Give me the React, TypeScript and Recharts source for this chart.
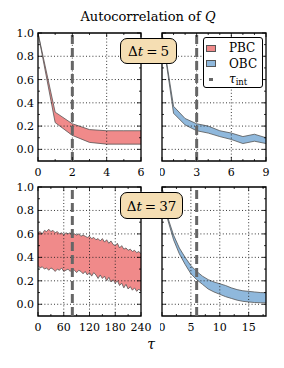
import React from 'react';
import { ComposedChart, Area, XAxis, YAxis, ReferenceLine, ReferenceArea } from 'recharts';

// ---------- data ----------
// Δt = 5, PBC
const pbc5Tau = [0, 1, 2, 3, 4, 5, 6];
const pbc5Low = [1.0, 0.23, 0.12, 0.06, 0.045, 0.045, 0.045];
const pbc5High = [1.0, 0.32, 0.22, 0.17, 0.16, 0.16, 0.16];
// Δt = 5, OBC
const obc5Tau = [0, 1, 2, 3, 4, 5, 6, 7, 8, 9];
const obc5Low = [1.0, 0.31, 0.21, 0.16, 0.14, 0.11, 0.085, 0.05, 0.07, 0.05];
const obc5High = [1.0, 0.37, 0.265, 0.22, 0.2, 0.16, 0.14, 0.11, 0.13, 0.1];
// Δt = 37, PBC
const pbc37Tau = [0, 5, 10, 15, 20, 25, 30, 35, 40, 45, 50, 55, 60, 65, 70, 75, 80, 85, 90, 95, 100, 105, 110, 115, 120, 125, 130, 135, 140, 145, 150, 155, 160, 165, 170, 175, 180, 185, 190, 195, 200, 205, 210, 215, 220, 225, 230, 235, 240];
const pbc37High = [0.61, 0.62, 0.6, 0.63, 0.62, 0.64, 0.62, 0.63, 0.61, 0.62, 0.6, 0.61, 0.59, 0.61, 0.6, 0.61, 0.59, 0.6, 0.59, 0.6, 0.58, 0.59, 0.58, 0.57, 0.58, 0.56, 0.57, 0.55, 0.56, 0.54, 0.56, 0.53, 0.55, 0.52, 0.54, 0.51, 0.5, 0.52, 0.48, 0.5, 0.47, 0.48, 0.46, 0.47, 0.45, 0.46, 0.44, 0.45, 0.43];
const pbc37Low = [0.33, 0.31, 0.32, 0.3, 0.31, 0.29, 0.31, 0.3, 0.28, 0.3, 0.29, 0.31, 0.28, 0.29, 0.3, 0.28, 0.3, 0.29, 0.27, 0.29, 0.28, 0.26, 0.28, 0.25, 0.27, 0.24, 0.27, 0.25, 0.22, 0.25, 0.22, 0.24, 0.2, 0.23, 0.19, 0.21, 0.18, 0.2, 0.16, 0.18, 0.14, 0.17, 0.13, 0.15, 0.12, 0.14, 0.11, 0.13, 0.11];
// Δt = 37, OBC
const obc37Tau = [0, 1, 2, 3, 4, 5, 6, 7, 8, 9, 10, 11, 12, 13, 14, 15, 16, 17, 18];
const obc37Low = [1.0, 0.72, 0.55, 0.43, 0.34, 0.26, 0.21, 0.17, 0.13, 0.105, 0.085, 0.065, 0.05, 0.035, 0.025, 0.02, 0.015, 0.013, 0.012];
const obc37High = [1.0, 0.74, 0.59, 0.48, 0.4, 0.33, 0.28, 0.24, 0.21, 0.19, 0.175, 0.16, 0.14, 0.125, 0.115, 0.11, 0.105, 0.1, 0.098];

const tauInt = { pbc5: 2, obc5: 3, pbc37: 80, obc37: 6 };

const yMajor = [0, 0.2, 0.4, 0.6, 0.8, 1.0];
const yMinor = [0.1, 0.3, 0.5, 0.7, 0.9];

const seriesNames = ['PBC', 'OBC'];
const PBC_FILL = '#f08a8a';
const OBC_FILL = '#8fb8dc';
const FONT = "'DejaVu Serif', serif";

const toData = (tau: number[], low: number[], high: number[]) =>
  tau.map((t, i) => ({ t, band: [low[i], high[i]] as [number, number] }));

type PanelProps = {
  left: number;
  top: number;
  plotW: number;
  plotH: number;
  yAxisW: number;
  data: { t: number; band: [number, number] }[];
  domain: [number, number];
  xMajor: number[];
  xMinor: number[];
  tau: number;
  fill: string;
  showY: boolean;
};

const MT = 8;
const MR = 14;

function Panel(p: PanelProps) {
  const xAxisH = 24;
  const width = p.yAxisW + p.plotW + MR;
  const height = MT + p.plotH + xAxisH;
  const xTicks = [...p.xMajor, ...p.xMinor].sort((a, b) => a - b);
  const yTicks = [...yMajor, ...yMinor].sort((a, b) => a - b);

  const XTick = (props: any) => {
    const { x, y, payload } = props;
    const v = payload.value;
    const major = p.xMajor.includes(v);
    const len = major ? 4 : 2;
    return (
      <g>
        <line x1={x} x2={x} y1={y} y2={y - len} stroke="#000" strokeWidth={0.8} />
        <line x1={x} x2={x} y1={y - p.plotH} y2={y - p.plotH + len} stroke="#000" strokeWidth={0.8} />
        {major && (
          <text x={x} y={y + 15} textAnchor="middle" fontSize={11} fontFamily={FONT} fill="#000">
            {v}
          </text>
        )}
      </g>
    );
  };

  const YTick = (props: any) => {
    const { x, y, payload } = props;
    const v = payload.value;
    const major = yMajor.includes(v);
    const len = major ? 4 : 2;
    return (
      <g>
        <line x1={x} x2={x + len} y1={y} y2={y} stroke="#000" strokeWidth={0.8} />
        <line x1={x + p.plotW} x2={x + p.plotW - len} y1={y} y2={y} stroke="#000" strokeWidth={0.8} />
        {major && p.showY && (
          <text x={x - 4} y={y + 4} textAnchor="end" fontSize={11} fontFamily={FONT} fill="#000">
            {v.toFixed(1)}
          </text>
        )}
      </g>
    );
  };

  const gridX = p.xMajor.filter((v) => v > p.domain[0] && v < p.domain[1]);
  const gridY = yMajor.filter((v) => v < 1);

  return (
    <div style={{ position: 'absolute', left: p.left, top: p.top - MT }}>
      <ComposedChart
        width={width}
        height={height}
        data={p.data}
        margin={{ top: MT, right: MR, bottom: 0, left: 0 }}
      >
        <XAxis
          type="number"
          dataKey="t"
          domain={p.domain}
          ticks={xTicks}
          interval={0}
          tickSize={0}
          tickMargin={0}
          axisLine={false}
          tickLine={false}
          tick={XTick}
          height={xAxisH}
          allowDataOverflow
        />
        <YAxis
          type="number"
          domain={[-0.1, 1]}
          ticks={yTicks}
          interval={0}
          tickSize={0}
          tickMargin={0}
          axisLine={false}
          tickLine={false}
          tick={YTick}
          width={p.yAxisW}
          allowDataOverflow
        />
        <Area
          type="linear"
          dataKey="band"
          stroke="#555"
          strokeWidth={0.8}
          fill={p.fill}
          fillOpacity={1}
          dot={false}
          activeDot={false}
          isAnimationActive={false}
        />
        {gridX.map((v) => (
          <ReferenceLine key={'gx' + v} x={v} stroke="#222" strokeWidth={0.9} strokeDasharray="1 2.2" />
        ))}
        {gridY.map((v) => (
          <ReferenceLine key={'gy' + v} y={v} stroke="#222" strokeWidth={0.9} strokeDasharray="1 2.2" />
        ))}
        <ReferenceLine x={p.tau} stroke="#666" strokeWidth={3} strokeDasharray="9 4" />
        <ReferenceArea
          x1={p.domain[0]}
          x2={p.domain[1]}
          y1={-0.1}
          y2={1}
          fill="none"
          fillOpacity={0}
          stroke="#000"
          strokeWidth={1.3}
        />
      </ComposedChart>
    </div>
  );
}

const DtBox = ({ left, top, w, h, value }: { left: number; top: number; w: number; h: number; value: number }) => (
  <div
    style={{
      position: 'absolute',
      left,
      top,
      width: w,
      height: h,
      boxSizing: 'border-box',
      border: '1.5px solid #000',
      borderRadius: 7,
      background: '#f5deb3',
      display: 'flex',
      alignItems: 'center',
      justifyContent: 'center',
      fontSize: 13.5,
      fontFamily: FONT,
      whiteSpace: 'nowrap',
    }}
  >
    <span>Δ</span>
    <span style={{ fontStyle: 'italic' }}>t</span>
    <span style={{ margin: '0 3px' }}>=</span>
    <span>{value}</span>
  </div>
);

export default function App() {
  return (
    <div
      style={{
        position: 'absolute',
        left: 0,
        top: 0,
        width: 284,
        height: 368,
        background: '#fff',
        fontFamily: FONT,
        overflow: 'hidden',
      }}
    >
      <div
        style={{
          position: 'absolute',
          left: 148,
          top: 9,
          transform: 'translateX(-50%)',
          fontSize: 13,
          whiteSpace: 'nowrap',
        }}
      >
        Autocorrelation of <span style={{ fontStyle: 'italic' }}>Q</span>
      </div>

      <Panel left={0} top={33} plotW={103} plotH={128} yAxisW={38} data={toData(pbc5Tau, pbc5Low, pbc5High)}
        domain={[0, 6]} xMajor={[0, 2, 4, 6]} xMinor={[1, 3, 5]} tau={tauInt.pbc5} fill={PBC_FILL} showY />
      <Panel left={160} top={33} plotW={104} plotH={128} yAxisW={2} data={toData(obc5Tau, obc5Low, obc5High)}
        domain={[0, 9]} xMajor={[0, 3, 6, 9]} xMinor={[1, 2, 4, 5, 7, 8]} tau={tauInt.obc5} fill={OBC_FILL} showY={false} />
      <Panel left={0} top={187} plotW={103} plotH={129} yAxisW={38} data={toData(pbc37Tau, pbc37Low, pbc37High)}
        domain={[0, 240]} xMajor={[0, 60, 120, 180, 240]} xMinor={[30, 90, 150, 210]} tau={tauInt.pbc37} fill={PBC_FILL} showY />
      <Panel left={160} top={187} plotW={104} plotH={129} yAxisW={2} data={toData(obc37Tau, obc37Low, obc37High)}
        domain={[0, 18]} xMajor={[0, 5, 10, 15]} xMinor={[2.5, 7.5, 12.5, 17.5]} tau={tauInt.obc37} fill={OBC_FILL} showY={false} />

      <DtBox left={120} top={38} w={57} h={26} value={5} />
      <DtBox left={120} top={192} w={63} h={27} value={37} />

      {/* legend */}
      <div
        style={{
          position: 'absolute',
          left: 203,
          top: 37,
          width: 60,
          height: 51,
          boxSizing: 'border-box',
          border: '1px solid #000',
          borderRadius: 3,
          background: '#fff',
          fontSize: 12,
        }}
      >
        {seriesNames.map((name, i) => (
          <div key={name} style={{ position: 'absolute', left: 2, top: 3 + i * 15.5, height: 14, display: 'flex', alignItems: 'center' }}>
            <div
              style={{
                width: 10,
                height: 7,
                boxSizing: 'border-box',
                border: '0.8px solid #555',
                background: i === 0 ? PBC_FILL : OBC_FILL,
                marginRight: 13,
              }}
            />
            <span>{name}</span>
          </div>
        ))}
        <div style={{ position: 'absolute', left: 2, top: 34, height: 14, display: 'flex', alignItems: 'center' }}>
          <div style={{ width: 10, display: 'flex', justifyContent: 'center', marginRight: 13 }}>
            <div style={{ width: 4, height: 3, background: '#666' }} />
          </div>
          <span style={{ fontStyle: 'italic' }}>τ</span>
          <span style={{ fontSize: 8.5, position: 'relative', top: 3 }}>int</span>
        </div>
      </div>

      <div style={{ position: 'absolute', left: 151, top: 336, transform: 'translateX(-50%)', fontSize: 14, fontStyle: 'italic' }}>
        τ
      </div>
    </div>
  );
}
